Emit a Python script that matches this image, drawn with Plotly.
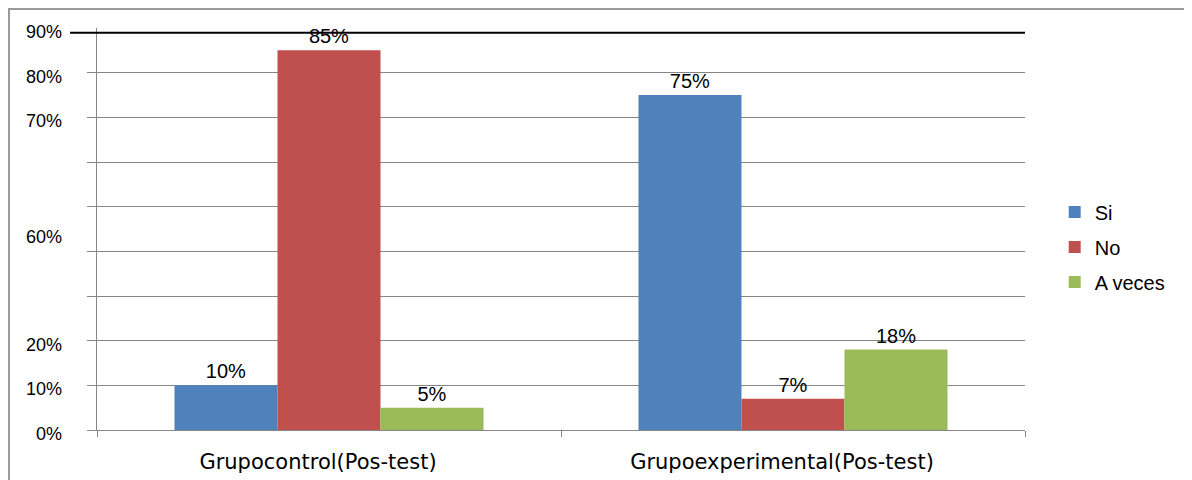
import plotly.graph_objects as go

categories = ["Grupocontrol(Pos-test)", "Grupoexperimental(Pos-test)"]
series_names = ["Si", "No", "A veces"]
si_values = [10, 75]
no_values = [85, 7]
aveces_values = [5, 18]
series_values = [si_values, no_values, aveces_values]
colors = ["#4F81BD", "#C0504D", "#9BBB59"]

y_grid_vals = [0, 10, 20, 30, 40, 50, 60, 70, 80]
y_label_vals = [0, 10, 20, 44, 70, 80, 90]
y_label_text = ["0%", "10%", "20%", "60%", "70%", "80%", "90%"]

GRID = "#868686"

fig = go.Figure()
for name, vals, col in zip(series_names, series_values, colors):
    fig.add_trace(go.Bar(
        x=categories, y=vals, name=name, legendgroup=name,
        marker=dict(color=col, line=dict(width=0)),
        text=[f"{v}%" for v in vals], textposition="outside",
        textfont=dict(family="Liberation Sans", size=20, color="black"),
        cliponaxis=False,
    ))

fig.update_layout(
    width=1184, height=472,
    margin=dict(l=89, r=167, t=20, b=50, autoexpand=False),
    paper_bgcolor="white", plot_bgcolor="white",
    barmode="group", bargap=0.334, bargroupgap=0,
    font=dict(family="Liberation Sans", color="black"),
    showlegend=True,
    legend=dict(x=1.032, xanchor="left", y=0.455, yanchor="middle",
                font=dict(family="Liberation Sans", size=20, color="black"),
                bgcolor="rgba(0,0,0,0)", tracegroupgap=6, traceorder="grouped"),
    xaxis=dict(showline=True, linecolor=GRID, linewidth=1,
               ticks="outside", tickson="boundaries", ticklen=6, tickcolor=GRID,
               tickfont=dict(family="DejaVu Sans", size=21, color="black"),
               ticklabelshift=-11, ticklabelstandoff=13,
               showgrid=False),
    yaxis=dict(range=[0, 90], showline=True, linecolor=GRID, linewidth=1,
               tickvals=y_grid_vals, ticktext=[""] * len(y_grid_vals),
               ticks="outside", ticklen=9, tickcolor=GRID,
               showgrid=True, gridcolor=GRID, gridwidth=1, zeroline=False),
)

for v, t in zip(y_label_vals, y_label_text):
    fig.add_annotation(x=-0.036, xref="paper", y=v, yref="y", yshift=-4,
                       text=t, showarrow=False, xanchor="right", yanchor="middle",
                       font=dict(family="Liberation Sans", size=18, color="black"))

# black top line
fig.add_shape(type="line", xref="paper", yref="paper", x0=-0.029, x1=1.0,
              y0=0.988, y1=0.988, line=dict(color="black", width=2))
# outer frame
fig.add_shape(type="rect", xref="paper", yref="paper", x0=-0.0948, x1=1.3,
              y0=-0.3, y1=1.0475, line=dict(color="#9A9A9A", width=2),
              fillcolor="rgba(0,0,0,0)", layer="below")

fig.write_html("out.html")
